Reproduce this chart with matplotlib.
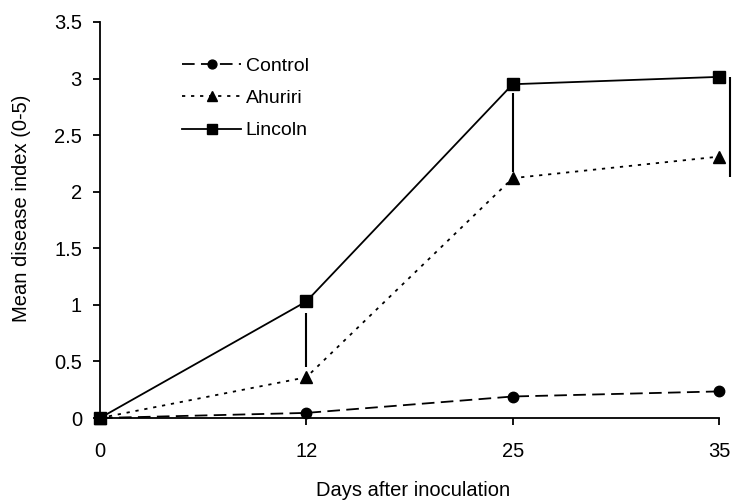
import matplotlib
matplotlib.use("Agg")
import matplotlib.pyplot as plt

plt.rcParams['font.family'] = ['Liberation Sans', 'DejaVu Sans']

days = ["0", "12", "25", "35"]
control = [0.0, 0.045, 0.19, 0.235]
ahuriri = [0.0, 0.36, 2.12, 2.31]
lincoln = [0.0, 1.03, 2.95, 3.015]
# LSD bars (lower, upper)
lsd_12 = (0.45, 0.93)
lsd_25 = (2.17, 2.87)
lsd_end = (2.13, 3.015)

fig = plt.figure(figsize=(7.32, 5.00), dpi=100)
ax = fig.add_axes([100/732, 1-418/500, 619/732, 396/500])
xs = list(range(len(days)))

ax.plot(xs, control, color='black', lw=1.3, dashes=(7, 3.5), marker='o', ms=7.5,
        label='Control', clip_on=False, zorder=3)
ax.plot(xs, ahuriri, color='black', lw=1.3, dashes=(1.8, 3.2), marker='^', ms=8,
        label='Ahuriri', clip_on=False, zorder=3)
ax.plot(xs, lincoln, color='black', lw=1.3, ls='-', marker='s', ms=8,
        label='Lincoln', clip_on=False, zorder=3)

ax.vlines(1, *lsd_12, color='black', lw=1.5)
ax.vlines(2, *lsd_25, color='black', lw=1.5)
ax.vlines(3.053, *lsd_end, color='black', lw=1.5, clip_on=False)

ax.set_xlim(0, 3)
ax.set_ylim(0, 3.5)
ax.set_xticks(xs)
ax.set_xticklabels(days)
ax.set_yticks([0, 0.5, 1, 1.5, 2, 2.5, 3, 3.5])
ax.set_yticklabels(['0', '0.5', '1', '1.5', '2', '2.5', '3', '3.5'])
ax.spines['top'].set_visible(False)
ax.spines['right'].set_visible(False)
for s in ['left', 'bottom']:
    ax.spines[s].set_linewidth(1.3)
ax.tick_params(axis='both', direction='out', length=5, width=1.3, labelsize=14.5)
ax.tick_params(axis='x', pad=12)
ax.tick_params(axis='y', pad=8)

ax.set_xlabel('Days after inoculation', fontsize=14.5, va='center')
ax.xaxis.set_label_coords(0.505, -(490 - 418) / 396)
ax.set_ylabel('Mean disease index (0-5)', fontsize=14.5)
ax.yaxis.set_label_coords(-0.112, 0.53)

leg = ax.legend(loc='upper left', bbox_to_anchor=(0.105, 0.955), frameon=False,
                fontsize=14, handlelength=3.0, handletextpad=0.25, labelspacing=0.75,
                markerscale=0.85)

fig.savefig('out.png', dpi=100)
